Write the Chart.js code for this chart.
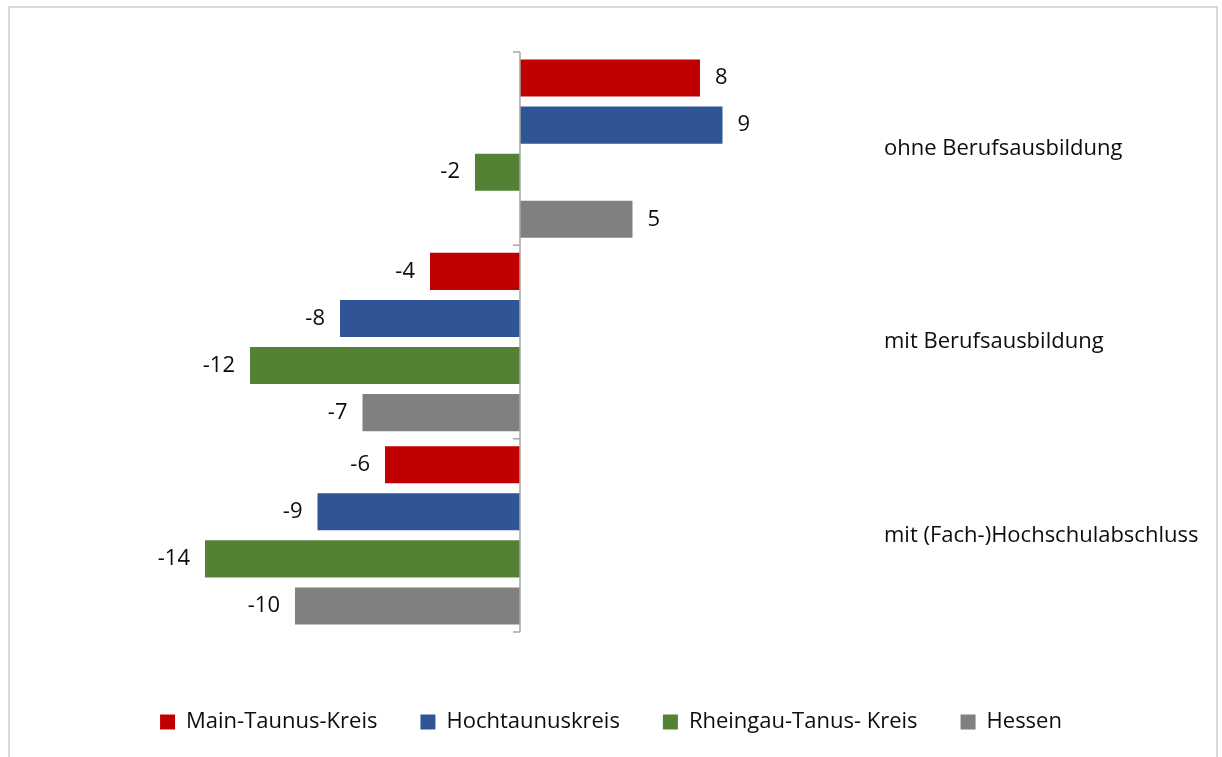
<!DOCTYPE html>
<html>
<head>
<meta charset="utf-8">
<script src="https://cdn.jsdelivr.net/npm/chart.js@4"></script>
<style>
html, body { margin: 0; padding: 0; background: #fff; overflow: hidden; }
#frame { position: absolute; left: 8px; top: 6px; width: 1206px; height: 770px; border: 2px solid #d9d9d9; }
#wrap { position: absolute; left: 0; top: 0; width: 1222px; height: 757px; }
</style>
</head>
<body>
<div id="frame"></div>
<div id="wrap"><canvas id="myChart"></canvas></div>
<script>
const CATEGORIES = ['ohne Berufsausbildung', 'mit Berufsausbildung', 'mit (Fach-)Hochschulabschluss'];
const MAIN_TAUNUS = [8, -4, -6];
const HOCHTAUNUS = [9, -8, -9];
const RHEINGAU = [-2, -12, -14];
const HESSEN = [5, -7, -10];

const FONT = '"Open Sans", "Noto Sans", sans-serif';

// value labels next to the bar ends
const valueLabels = {
    id: 'valueLabels',
    afterDatasetsDraw(chart) {
        const ctx = chart.ctx;
        ctx.save();
        ctx.font = '22px ' + FONT;
        ctx.fillStyle = '#0d0d0d';
        ctx.textBaseline = 'middle';
        chart.data.datasets.forEach((ds, i) => {
            chart.getDatasetMeta(i).data.forEach((bar, j) => {
                const v = ds.data[j];
                ctx.textAlign = v < 0 ? 'right' : 'left';
                ctx.fillText(String(v), bar.x + (v < 0 ? -15 : 15), bar.y);
            });
        });
        ctx.restore();
    }
};

// vertical axis line at zero with category tick marks
const zeroAxis = {
    id: 'zeroAxis',
    afterDatasetsDraw(chart) {
        const ctx = chart.ctx;
        const area = chart.chartArea;
        const x0 = chart.scales.x.getPixelForValue(0);
        const step = (area.bottom - area.top) / CATEGORIES.length;
        ctx.save();
        ctx.strokeStyle = '#a6a6a6';
        ctx.lineWidth = 1.5;
        ctx.beginPath();
        ctx.moveTo(x0, area.top);
        ctx.lineTo(x0, area.bottom);
        for (let i = 0; i <= CATEGORIES.length; i++) {
            const y = area.top + i * step;
            ctx.moveTo(x0 - 7, y);
            ctx.lineTo(x0, y);
        }
        ctx.stroke();
        ctx.restore();
    }
};

const CONTEXT = document.getElementById('myChart').getContext('2d');
new Chart(CONTEXT,
{
    type: 'bar',
    data:
    {
        labels: CATEGORIES,
        datasets:
        [
            { label: 'Main-Taunus-Kreis', data: MAIN_TAUNUS, backgroundColor: '#c00000' },
            { label: 'Hochtaunuskreis', data: HOCHTAUNUS, backgroundColor: '#2f5597' },
            { label: 'Rheingau-Tanus- Kreis', data: RHEINGAU, backgroundColor: '#548235' },
            { label: 'Hessen', data: HESSEN, backgroundColor: '#808080' }
        ]
    },
    options:
    {
        indexAxis: 'y',
        responsive: true,
        maintainAspectRatio: false,
        animation: false,
        categoryPercentage: 0.974,
        barPercentage: 0.787,
        layout: { padding: { left: 0, top: 52, right: 0, bottom: 14 } },
        scales:
        {
            x:
            {
                min: -23.11,
                max: 16,
                grid: { display: false },
                border: { display: false },
                ticks: { display: false },
                afterFit: s => { s.height = 36; }
            },
            y:
            {
                position: 'right',
                grid: { display: false },
                border: { display: false },
                ticks: { color: '#0d0d0d', font: { size: 22, family: FONT }, padding: -4 },
                afterFit: s => { s.width = 342; }
            }
        },
        plugins:
        {
            tooltip: { enabled: false },
            legend:
            {
                position: 'bottom',
                labels: { color: '#0d0d0d', font: { size: 22, family: FONT }, boxWidth: 15, boxHeight: 15, padding: 43 }
            }
        }
    },
    plugins: [valueLabels, zeroAxis]
});
</script>
</body>
</html>
